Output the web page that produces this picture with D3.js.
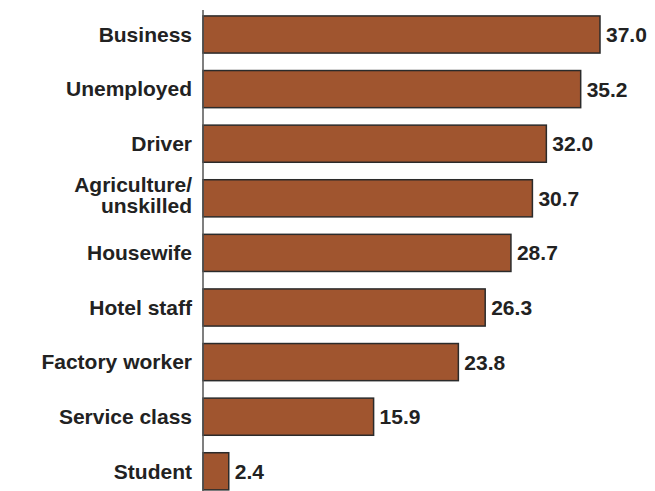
<!DOCTYPE html>
<html>
<head>
<meta charset="utf-8">
<script src="https://cdn.jsdelivr.net/npm/d3@7"></script>
<style>
  html, body { margin: 0; padding: 0; background: #fff; }
  svg { display: block; }
  text { font-family: "Liberation Sans", Arial, Helvetica, sans-serif; font-weight: bold; fill: #222; }
</style>
</head>
<body>
<svg id="chart" width="655" height="491"></svg>
<script>
// Occupation groups, top to bottom
const categories = [
  "Business", "Unemployed", "Driver", "Agriculture/\nunskilled", "Housewife",
  "Hotel staff", "Factory worker", "Service class", "Student"
];
// Percentage for each group
const values = [37.0, 35.2, 32.0, 30.7, 28.7, 26.3, 23.8, 15.9, 2.4];

const svg = d3.select("#chart");
const x0 = 203;
const fontSize = 21;

const x = d3.scaleLinear().domain([0, 37]).range([x0, 600]);
const y = d3.scaleBand()
  .domain(categories)
  .range([7.2, 498.6])
  .paddingInner(0.32)
  .paddingOuter(0.16);

const data = categories.map((c, i) => ({ cat: c, val: values[i] }));

// Bars
svg.append("g").selectAll("rect")
  .data(data)
  .join("rect")
  .attr("x", x(0))
  .attr("y", d => y(d.cat))
  .attr("width", d => x(d.val) - x(0))
  .attr("height", y.bandwidth())
  .attr("fill", "#a0552f")
  .attr("stroke", "#2b2b2b")
  .attr("stroke-width", 1.5);

// Vertical category axis line
svg.append("line")
  .attr("x1", x0).attr("x2", x0)
  .attr("y1", 10).attr("y2", 491)
  .attr("stroke", "#555")
  .attr("stroke-width", 1.5);

// Category labels (may span two lines)
const lineH = 21;
svg.append("g").selectAll("text")
  .data(data)
  .join("text")
  .attr("text-anchor", "end")
  .attr("font-size", fontSize)
  .each(function(d) {
    const lines = d.cat.split("\n");
    const cy = y(d.cat) + y.bandwidth() / 2;
    const startY = lines.length > 1 ? cy - 13.5 : cy;
    d3.select(this).selectAll("tspan")
      .data(lines)
      .join("tspan")
      .attr("x", x0 - 11)
      .attr("y", (l, i) => startY + i * lineH)
      .attr("dy", "0.35em")
      .text(l => l);
  });

// Value labels
svg.append("g").selectAll("text")
  .data(data)
  .join("text")
  .attr("x", d => x(d.val) + 6)
  .attr("y", d => y(d.cat) + y.bandwidth() / 2)
  .attr("dy", "0.36em")
  .attr("font-size", fontSize)
  .text(d => d.val.toFixed(1));
</script>
</body>
</html>
